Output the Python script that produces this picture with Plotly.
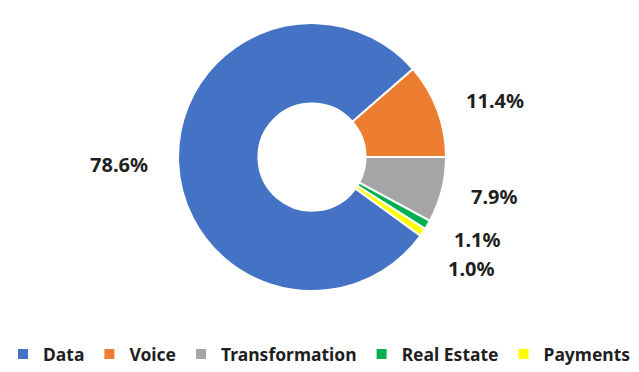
import math
import plotly.graph_objects as go

categories = ["Data", "Voice", "Transformation", "Real Estate", "Payments"]
values = [78.6, 11.4, 7.9, 1.1, 1.0]
colors = ["#4472C4", "#ED7D31", "#A5A5A5", "#00B050", "#FFFF00"]
labels_text = ["78.6%", "11.4%", "7.9%", "1.1%", "1.0%"]

W, H = 639, 372
DOM_X = [0.2786, 0.698]
DOM_Y = [0.2177, 0.938]
ROTATION = 126
LABEL_FONT = dict(family="Noto Sans", size=20, color="#1f1f1f", weight="bold")

fig = go.Figure(go.Pie(
    labels=categories,
    values=values,
    textinfo="none",
    hole=0.40,
    sort=False,
    direction="clockwise",
    rotation=ROTATION,
    marker=dict(colors=colors, line=dict(color="white", width=2)),
    domain=dict(x=DOM_X, y=DOM_Y),
    hoverinfo="label+percent",
))

# data labels placed outside each slice at its mid-angle
cx = (DOM_X[0] + DOM_X[1]) / 2 * W
cy = (1 - (DOM_Y[0] + DOM_Y[1]) / 2) * H
r = min((DOM_X[1] - DOM_X[0]) * W, (DOM_Y[1] - DOM_Y[0]) * H) / 2
k = 1.21
total = sum(values)
cum = 0.0
placed = []
for val, txt in zip(values, labels_text):
    mid = ROTATION + (cum + val / 2) / total * 360
    cum += val
    a = math.radians(mid)
    dx, dy = math.sin(a), -math.cos(a)
    px = cx + k * r * dx
    py = cy + k * r * dy
    side = "left" if dx > 0 else "right"
    placed.append([px, py, side, txt])

# simple collision avoidance on the right side
right = sorted([p for p in placed if p[2] == "left"], key=lambda p: p[1])
for i in range(1, len(right)):
    if right[i][1] < right[i - 1][1] + 29:
        right[i][1] = right[i - 1][1] + 29

for px, py, side, txt in placed:
    fig.add_annotation(
        x=px / W, y=1 - py / H, xref="paper", yref="paper",
        text=txt, showarrow=False, xanchor=side, yanchor="middle",
        font=LABEL_FONT,
    )

fig.update_layout(
    width=W, height=H,
    margin=dict(l=0, r=0, t=0, b=0),
    paper_bgcolor="white",
    plot_bgcolor="white",
    showlegend=True,
    legend=dict(
        orientation="h",
        x=0.5, xanchor="center",
        y=0.0, yanchor="bottom",
        font=dict(family="Noto Sans", size=17.5, color="#1f1f1f", weight="bold"),
        itemwidth=30,
    ),
)

fig.write_html(
    "out.html",
    config={"displayModeBar": False},
    post_script="document.body.style.margin='0';",
)
